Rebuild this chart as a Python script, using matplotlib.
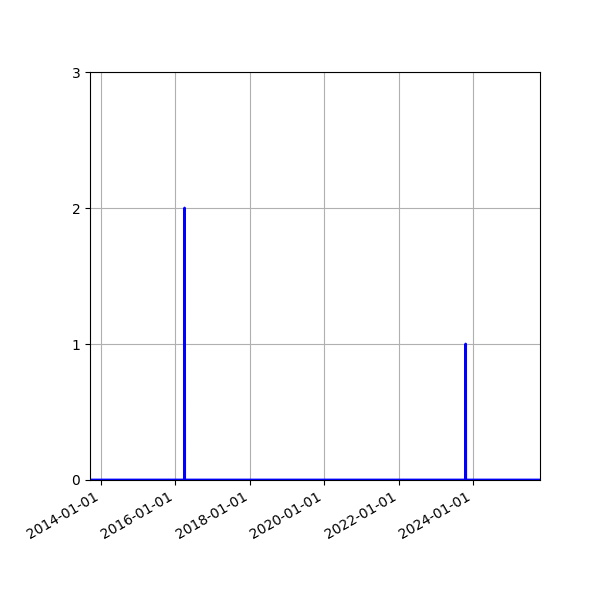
import matplotlib
matplotlib.use("Agg")
import matplotlib.pyplot as plt
import matplotlib.dates as mdates
import pandas as pd

# daily counts, zero everywhere except the listed days
dates = ["2013-09-18", "2016-04-01", "2016-04-02", "2016-04-03",
         "2023-10-17", "2023-10-18", "2023-10-19", "2025-10-16"]
counts = [0, 0, 2, 0, 0, 1, 0, 0]
yticks = [0, 1, 2, 3]

x = pd.to_datetime(dates)

fig, ax = plt.subplots(figsize=(6, 6), dpi=100)
ax.plot(x, counts, color="blue", linewidth=2)
ax.set_xlim(x[0], x[-1])
ax.set_ylim(0, 3)
ax.set_yticks(yticks)
ax.xaxis.set_major_locator(mdates.YearLocator(2))
ax.xaxis.set_major_formatter(mdates.DateFormatter("%Y-%m-%d"))
ax.grid(True)
fig.autofmt_xdate()
fig.subplots_adjust(left=0.15)
fig.savefig("out.png")
